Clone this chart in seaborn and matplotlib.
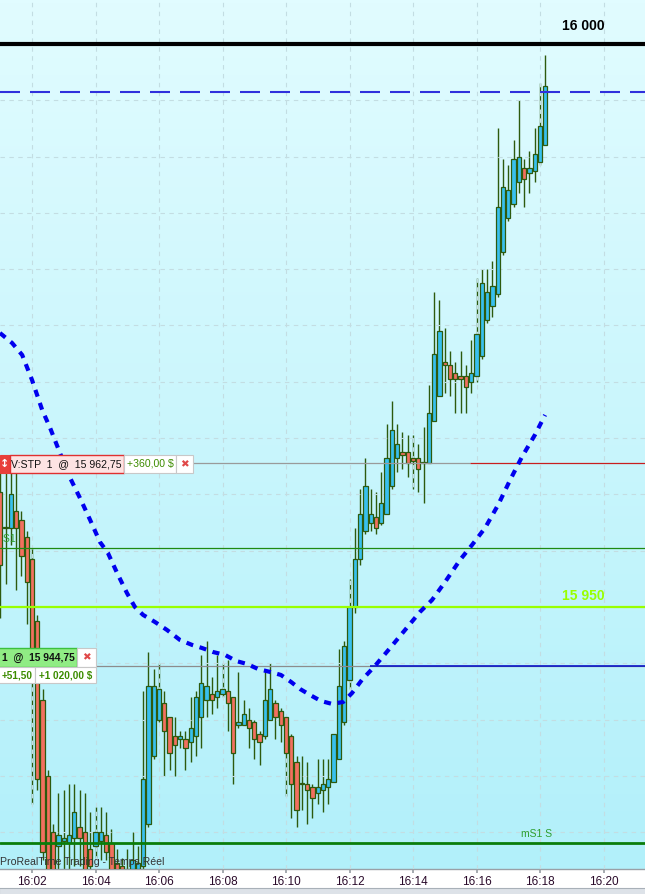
"""
ProRealTime style 10-second candlestick chart, Nasdaq future around 16:01-16:18.
"""
import numpy as np
import pandas as pd
import matplotlib
matplotlib.use('Agg')
import matplotlib.pyplot as plt
from matplotlib.patches import Rectangle
import seaborn as sns

# ============================================================
# Data
# ============================================================
start_minute = 1.0          # first candle at 16:01:00
bar_seconds = 10

opens = [15960.25, 15957.0, 15957.0, 15958.5, 15957.75, 15956.25, 15954.25, 15948.75, 15941.75, 15935.0,
         15930.0, 15928.75, 15929.25, 15929.0, 15929.5, 15930.5, 15930.0, 15928.5, 15928.75, 15929.25,
         15929.75, 15929.0, 15927.25, 15927.0, 15926.5, 15926.75, 15926.75, 15927.0, 15930.75, 15936.75,
         15940.0, 15941.5, 15940.25, 15938.5, 15938.25, 15938.25, 15938.0, 15938.5, 15940.25, 15941.75,
         15942.25, 15942.0, 15942.25, 15942.5, 15942.0, 15939.5, 15939.5, 15940.0, 15939.75, 15938.75,
         15938.5, 15940.0, 15941.5, 15940.75, 15940.25, 15938.5, 15936.25, 15934.25, 15934.25, 15934.0,
         15933.5, 15933.75, 15934.0, 15934.5, 15936.5, 15939.75, 15943.5, 15950.0, 15954.25, 15956.75,
         15957.5, 15958.0, 15957.5, 15958.25, 15960.75, 15963.25, 15963.75, 15963.75, 15963.25, 15963.25,
         15962.75, 15962.75, 15966.5, 15968.75, 15971.75, 15971.5, 15970.75, 15970.5, 15970.5, 15970.0,
         15970.5, 15972.25, 15975.5, 15976.75, 15977.75, 15981.5, 15984.5, 15985.75, 15987.75, 15989.0,
         15988.5, 15988.75, 15989.5, 15991.0]
highs = [15962.25, 15963.5, 15963.0, 15962.25, 15958.5, 15956.75, 15955.25, 15949.25, 15942.75, 15935.5,
         15930.75, 15933.5, 15933.75, 15934.25, 15934.25, 15933.75, 15933.5, 15931.75, 15932.25, 15932.25,
         15931.75, 15930.25, 15928.5, 15927.75, 15928.5, 15930.0, 15928.75, 15942.5, 15946.0, 15944.5,
         15945.0, 15942.5, 15940.25, 15940.25, 15939.0, 15939.0, 15942.0, 15942.5, 15945.75, 15947.0,
         15943.75, 15945.75, 15945.0, 15945.25, 15942.0, 15944.25, 15941.75, 15941.0, 15940.0, 15939.0,
         15944.5, 15945.0, 15941.75, 15941.0, 15940.25, 15938.75, 15936.75, 15936.75, 15936.25, 15934.25,
         15936.5, 15936.5, 15936.5, 15938.75, 15946.25, 15947.0, 15952.5, 15957.0, 15960.5, 15963.25,
         15960.5, 15960.25, 15962.0, 15966.25, 15968.25, 15966.25, 15965.5, 15965.25, 15965.25, 15964.5,
         15966.0, 15969.75, 15978.0, 15977.25, 15974.75, 15972.75, 15971.75, 15972.75, 15971.5, 15973.75,
         15979.25, 15980.0, 15980.0, 15980.75, 15992.5, 15989.75, 15989.25, 15991.5, 15995.0, 15989.75,
         15990.5, 15992.5, 15996.5, 15999.0]
lows = [15949.0, 15952.0, 15955.5, 15951.5, 15952.75, 15948.5, 15932.5, 15933.75, 15927.5, 15925.25,
        15925.75, 15925.75, 15926.25, 15926.75, 15927.0, 15927.0, 15925.75, 15926.0, 15927.75, 15927.5,
        15927.5, 15925.25, 15925.25, 15925.25, 15925.25, 15925.75, 15925.25, 15925.75, 15930.5, 15936.5,
        15939.75, 15935.0, 15935.5, 15935.0, 15937.5, 15935.5, 15936.25, 15936.75, 15937.5, 15940.25,
        15940.5, 15941.0, 15942.0, 15939.0, 15934.25, 15939.25, 15939.5, 15937.5, 15936.5, 15936.0,
        15938.25, 15940.0, 15938.25, 15938.0, 15933.25, 15931.25, 15930.5, 15932.0, 15930.75, 15931.25,
        15932.5, 15931.75, 15932.5, 15934.5, 15936.5, 15939.5, 15942.75, 15949.5, 15953.75, 15956.5,
        15956.75, 15956.5, 15957.25, 15958.25, 15960.5, 15962.0, 15962.25, 15961.5, 15960.5, 15960.25,
        15959.25, 15962.75, 15966.5, 15968.75, 15969.0, 15968.75, 15967.25, 15967.25, 15967.25, 15969.0,
        15970.0, 15972.0, 15975.25, 15975.75, 15977.5, 15981.25, 15984.25, 15985.5, 15986.75, 15985.5,
        15986.75, 15987.75, 15989.25, 15991.0]
closes = [15953.75, 15957.0, 15960.0, 15957.0, 15954.5, 15952.25, 15946.25, 15934.75, 15928.25, 15925.75,
          15926.25, 15929.75, 15929.5, 15929.75, 15931.75, 15929.5, 15926.5, 15927.0, 15930.0, 15930.0,
          15928.25, 15926.25, 15926.5, 15926.75, 15926.75, 15927.5, 15927.25, 15934.75, 15943.0, 15943.0,
          15942.75, 15939.0, 15937.0, 15937.75, 15938.5, 15937.5, 15939.25, 15942.0, 15943.25, 15943.0,
          15941.75, 15942.5, 15942.75, 15941.5, 15937.0, 15939.75, 15940.5, 15939.25, 15938.25, 15938.0,
          15941.75, 15942.75, 15940.25, 15939.5, 15937.0, 15934.25, 15932.0, 15934.25, 15933.75, 15933.0,
          15934.0, 15934.25, 15934.75, 15938.75, 15943.0, 15946.5, 15950.0, 15954.25, 15958.25, 15960.75,
          15958.25, 15957.0, 15959.25, 15963.25, 15965.75, 15964.5, 15963.5, 15962.75, 15963.0, 15962.25,
          15962.75, 15967.25, 15972.5, 15974.5, 15971.5, 15970.25, 15970.25, 15970.25, 15969.5, 15970.75,
          15974.25, 15978.75, 15978.0, 15978.5, 15985.5, 15987.25, 15987.0, 15989.75, 15990.0, 15988.0,
          15989.0, 15990.25, 15992.75, 15996.25]

# moving average (dotted blue), minutes after 16:00 / price
ma_minutes = [0.99, 1.37, 1.69, 2.00, 2.32, 2.57, 2.88, 3.20, 3.51, 3.83, 4.14, 4.39, 4.68, 4.99,
              5.24, 5.50, 5.87, 6.25, 6.66, 7.04, 7.35, 7.70, 8.08, 8.43, 8.77, 9.12, 9.50, 9.84,
              10.16, 10.44, 10.76, 11.10, 11.45, 11.80, 12.08, 12.39, 12.80, 13.28, 13.75, 14.22,
              14.60, 15.01, 15.48, 15.86, 16.27, 16.68, 17.06, 17.43, 17.84, 18.16]
ma_prices = [15974.33, 15973.45, 15972.38, 15970.16, 15967.50, 15965.90, 15963.68, 15961.46, 15959.68,
             15957.73, 15955.77, 15954.80, 15953.02, 15951.24, 15950.00, 15949.29, 15948.67, 15947.96,
             15947.07, 15946.63, 15946.36, 15946.00, 15945.74, 15945.20, 15944.94, 15944.49, 15944.23,
             15943.96, 15943.34, 15942.72, 15942.18, 15941.65, 15941.39, 15941.56, 15942.36, 15943.52,
             15944.76, 15946.36, 15947.96, 15949.56, 15950.62, 15952.22, 15954.17, 15955.51, 15957.02,
             15959.06, 15961.28, 15963.32, 15965.28, 15967.05]

# horizontal levels
level_round = 16000.0
level_target = 15995.75
level_stop = 15962.75
level_s1_day = 15955.25
level_half = 15950.0
level_entry = 15944.75
level_s1_week = 15929.0

tick_minutes = list(range(2, 21, 2))
tick_labels = [f"16:{m:02d}" for m in tick_minutes]

# ============================================================
# Setup
# ============================================================
W, H = 645, 894
sns.set_theme(style='white')
plt.rcParams['font.family'] = ['Liberation Sans', 'DejaVu Sans']

df = pd.DataFrame({'open': opens, 'high': highs, 'low': lows, 'close': closes})
df['minute'] = start_minute + np.arange(len(df)) * bar_seconds / 60.0
df['up'] = df['close'] >= df['open']

fig = plt.figure(figsize=(W / 100, H / 100), dpi=100)
fig.patch.set_facecolor('white')
ax = fig.add_axes([0, 25 / H, 1, 869 / H])

XMIN, XMAX = 0.992, 21.307
YMIN, YMAX = 15926.73, 16003.9

# background gradient
grad = np.linspace(0, 1, 256)[:, None]
top = np.array([225, 252, 255]) / 255
bot = np.array([178, 240, 250]) / 255
img = top[None, None, :] * (1 - grad[..., None]) + bot[None, None, :] * grad[..., None]
img = np.repeat(img, 2, axis=1)
ax.imshow(img, extent=[XMIN, XMAX, YMIN, YMAX], aspect='auto', zorder=0, origin='upper')

# grid
ax.set_xticks(tick_minutes)
ax.set_xticklabels(tick_labels)
ax.set_yticks(np.arange(15930, 16001, 5))
ax.grid(True, color='#c3dde2', linestyle=(0, (4, 4)), linewidth=0.8, zorder=1)
ax.set_axisbelow(False)

# ============================================================
# Candles
# ============================================================
up_col, down_col, edge_col = '#38c0ee', '#f2705f', '#2d5a0e'
ax.vlines(df['minute'], df['low'], df['high'], color=edge_col, linewidth=1.0, zorder=2)
bottoms = np.minimum(df['open'], df['close'])
heights = np.maximum((df['close'] - df['open']).abs(), 0.08)
ax.bar(df['minute'], heights, bottom=bottoms, width=0.135,
       color=np.where(df['up'], up_col, down_col), edgecolor=edge_col,
       linewidth=0.9, zorder=3)

# moving average
sns.lineplot(x=ma_minutes, y=ma_prices, ax=ax, color='#0000ee', linewidth=3.0,
             linestyle=(0, (1.7, 1.6)), sort=False, estimator=None, zorder=6)

# ============================================================
# Levels
# ============================================================
ax.axhline(level_round, color='black', linewidth=3.0, zorder=5)
ax.axhline(level_target, color='#2f2fdc', linewidth=1.5, linestyle=(0, (9.6, 4.8)), zorder=5)
stop_split = 2 + (470 - 32) / 31.75
ax.hlines(level_stop, 2 + (193 - 32) / 31.75, stop_split, color='#9a9a9a', linewidth=0.9, zorder=5)
ax.hlines(level_stop, stop_split, XMAX, color='#c81e1e', linewidth=0.9, zorder=5)
ax.axhline(level_s1_day, color='#1f8a12', linewidth=0.9, zorder=5)
ax.axhline(level_half, color='#99ff00', linewidth=1.6, zorder=5)
ax.axhline(level_entry, color='#8c8c8c', linewidth=0.9, zorder=5)
ax.hlines(level_entry, 2 + (370 - 32) / 31.75, XMAX, color='#0a14c8', linewidth=1.2, zorder=5)
ax.axhline(level_s1_week, color='#0a7d0a', linewidth=2.0, zorder=5)

ax.text(583 / 645 * (XMAX - XMIN) + XMIN, 16001.0, '16 000', ha='center', va='bottom',
        fontsize=10, fontweight='bold', color='black', zorder=7)
ax.text(583 / 645 * (XMAX - XMIN) + XMIN, level_half + 0.35, '15 950', ha='center', va='bottom',
        fontsize=10, fontweight='bold', color='#99ff00', zorder=7)
ax.text(537 / 645 * (XMAX - XMIN) + XMIN, level_s1_week + 0.35, 'mS1 S', ha='center', va='bottom',
        fontsize=7.5, color='#2e9e2e', zorder=7)
ax.text(XMIN + 0.09, level_s1_day + 0.3, 'S1 J', ha='left', va='bottom',
        fontsize=7.5, color='#2e9e2e', zorder=2)

ax.set_xlim(XMIN, XMAX)
ax.set_ylim(YMIN, YMAX)
for side in ['top', 'left', 'right']:
    ax.spines[side].set_visible(False)
ax.spines['bottom'].set_color('#9aa0a6')
ax.spines['bottom'].set_linewidth(1.0)
ax.tick_params(axis='y', left=False, labelleft=False)
ax.tick_params(axis='x', bottom=True, direction='out', length=3, color='#9aa0a6',
               labelsize=8.5, labelcolor='#2a0a2a', pad=2)

# ============================================================
# Order tags (screen pixel layout)
# ============================================================
def box(x0, y0, x1, y1, face, edge, lw=0.8):
    fig.add_artist(Rectangle((x0 / W, 1 - y1 / H), (x1 - x0) / W, (y1 - y0) / H,
                             transform=fig.transFigure, facecolor=face, edgecolor=edge,
                             linewidth=lw, zorder=10))

def label(x, y, s, **kw):
    kw.setdefault('zorder', 11)
    fig.text(x / W, 1 - y / H, s, va='center', **kw)

# stop order tag
box(0, 455, 9.5, 473, '#e8403a', '#e8403a')
label(4.7, 464, '↕', ha='center', fontsize=8, color='white', fontweight='bold',
      family=['DejaVu Sans'])
box(9.5, 455, 124, 473, '#fde3e3', '#e03030', lw=1.0)
label(66.5, 464, 'V:STP  1  @  15 962,75', ha='center', fontsize=7.6, color='#111111')
box(124, 455, 176, 473, 'white', '#c8c8c8')
label(150, 464, '+360,00 $', ha='center', fontsize=7.6, color='#3c8c00')
box(176, 455, 193, 473, 'white', '#c8c8c8')
label(184.5, 464, '✖', ha='center', fontsize=7.5, color='#e04848', family=['DejaVu Sans'])

# entry tag
box(-2, 648, 77, 667, '#90ec84', '#3cc03c', lw=1.0)
label(38, 657.5, '1  @  15 944,75', ha='center', fontsize=7.4, fontweight='bold', color='#111111')
box(77, 648, 96, 667, 'white', '#c8c8c8')
label(86.5, 657.5, '✖', ha='center', fontsize=7.5, color='#e04848', family=['DejaVu Sans'])
box(-2, 667, 35, 683, 'white', '#c8c8c8')
label(17, 675, '+51,50', ha='center', fontsize=7.2, fontweight='bold', color='#3c8c00')
box(35, 667, 96, 683, 'white', '#c8c8c8')
label(65.5, 675, '+1 020,00 $', ha='center', fontsize=7.2, fontweight='bold', color='#3c8c00')

# watermark
label(0, 862, 'ProRealTime Trading - Temps Réel', ha='left', fontsize=7.6, color='#333333')

# bottom toolbar strip
box(-1, 888, W + 1, H + 1, '#dde2e8', '#a8b0b8')

fig.savefig('out.png', dpi=100)
plt.close(fig)
